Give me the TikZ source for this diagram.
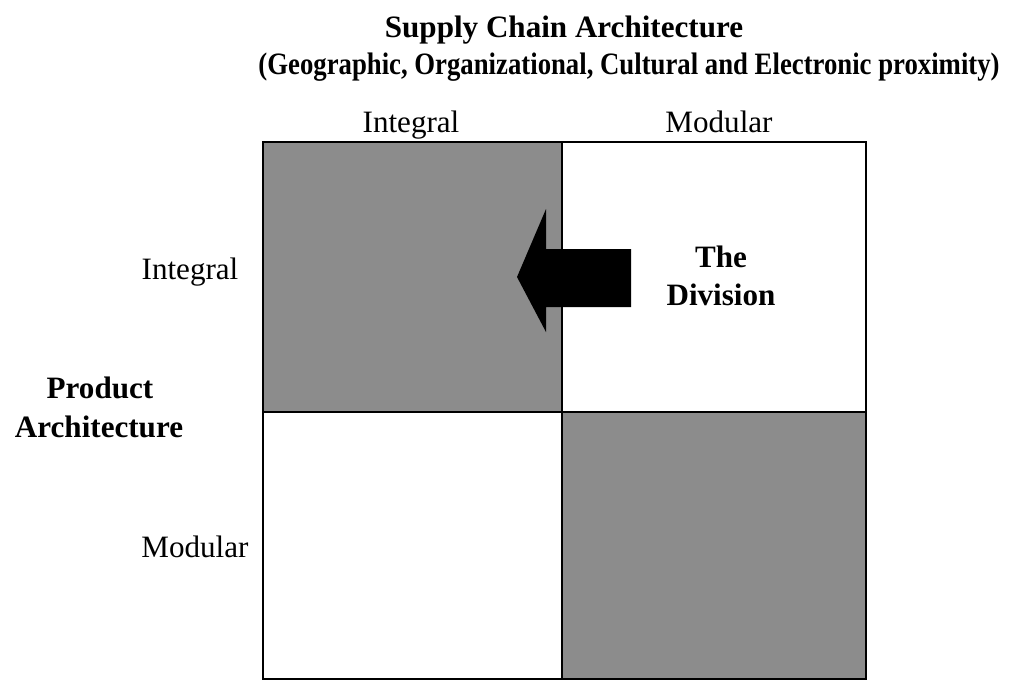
\documentclass[tikz,border=0pt]{standalone}
\usepackage{fontspec}
\setmainfont{Liberation Serif}

\begin{document}
\begin{tikzpicture}[x=0.02cm,y=-0.02cm,
      lbl/.style={font=\fontsize{17.7}{18}\selectfont,inner sep=0pt,anchor=base},
      hdr/.style={lbl,font=\fontsize{17.7}{18}\selectfont\bfseries},
      cell/.style={draw,line width=1pt},
      shaded/.style={cell,fill=black!45}]

    \useasboundingbox (0,0) rectangle (1011,681);

    % four quadrants, shaded on the diagonal
    \filldraw[shaded] (263,142) rectangle (562,412);
    \filldraw[cell,fill=white] (562,142) rectangle (866,412);
    \filldraw[cell,fill=white] (263,412) rectangle (562,679);
    \filldraw[shaded] (562,412) rectangle (866,679);

    % the move towards the integral corner
    \fill (517,277) -- (546,209) -- (546,249) -- (631,249) -- (631,307)
      -- (546,307) -- (546,332) -- cycle;

    \node[hdr] (title1) at (564,37) {Supply Chain Architecture};
    \node[hdr] (title2) at (629,74) {\scalebox{0.86}[1]{(Geographic, Organizational, Cultural and Electronic proximity)}};

    \node[lbl] (colint) at (411,132) {Integral};
    \node[lbl] (colmod) at (719,132) {Modular};
    \node[lbl] (rowint) at (190,279) {Integral};
    \node[lbl] (rowmod) at (195,557) {Modular};

    \node[hdr] (prod1) at (100,398) {Product};
    \node[hdr] (prod2) at (99,437) {Architecture};

    \node[hdr] (div1) at (721,267) {The};
    \node[hdr] (div2) at (721,305) {Division};

  \end{tikzpicture}
\end{document}
